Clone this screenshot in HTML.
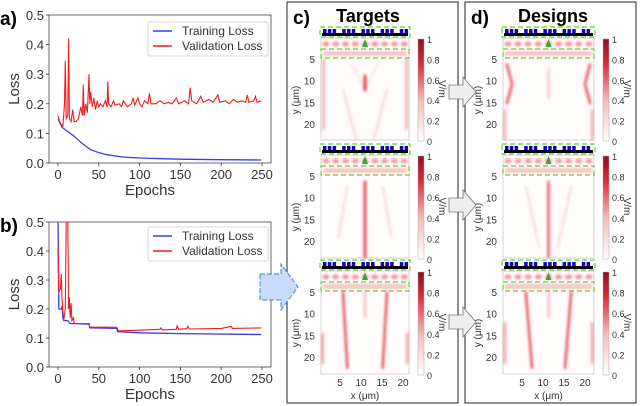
<!DOCTYPE html>
<html><head><meta charset="utf-8"><style>
body{margin:0;background:#fff;}
svg{display:block;font-family:"Liberation Sans",sans-serif;}
</style></head><body>
<svg width="640" height="406" viewBox="0 0 640 406">
<defs>
<filter id="bl" filterUnits="userSpaceOnUse" x="0" y="0" width="640" height="406"><feGaussianBlur stdDeviation="1.4"/></filter>
<linearGradient id="cb" x1="0" y1="1" x2="0" y2="0"><stop offset="0" stop-color="#fff"/><stop offset="0.4" stop-color="#f6b9b9"/><stop offset="0.75" stop-color="#d9303a"/><stop offset="1" stop-color="#8a1020"/></linearGradient>
<clipPath id="clipA"><rect x="49" y="15" width="222" height="148"/></clipPath>
<clipPath id="clipB"><rect x="49" y="222" width="222" height="145"/></clipPath>
</defs>
<g id="chartA"></g>
<g id="chartB"></g>
<g id="panels"></g>
</svg>
<script>
const NS="http://www.w3.org/2000/svg";
// ---- chart data ----
const epochTicks=[0,50,100,150,200,250];
const lossTicks=[0.0,0.1,0.2,0.3,0.4,0.5];
const aTrainEpochs=[0,5,10,20,30,40,50,60,80,100,150,200,249];
const aTrainLoss=[0.15,0.12,0.11,0.09,0.065,0.045,0.035,0.028,0.02,0.017,0.013,0.011,0.01];
const aValEpochs=[0,2,4,6,8,9,10,12,13,14,16,18,20,22,25,28,30,31,32,34,36,38,39,40,42,44,46,48,50,52,55,58,60,61,62,65,68,70,75,78,80,85,90,92,94,98,100,103,106,110,112,114,120,125,130,135,140,145,148,155,160,162,164,170,175,178,185,190,196,198,205,210,215,220,225,230,232,234,240,242,244,249];
const aValLoss=[0.16,0.14,0.13,0.125,0.2,0.345,0.15,0.16,0.42,0.15,0.14,0.18,0.14,0.14,0.15,0.19,0.16,0.265,0.16,0.2,0.17,0.3,0.2,0.24,0.19,0.22,0.18,0.21,0.19,0.2,0.19,0.21,0.19,0.275,0.2,0.19,0.21,0.195,0.2,0.19,0.21,0.19,0.2,0.22,0.195,0.22,0.2,0.19,0.21,0.2,0.235,0.2,0.2,0.21,0.2,0.205,0.2,0.22,0.2,0.21,0.2,0.255,0.21,0.2,0.225,0.205,0.215,0.205,0.23,0.205,0.21,0.2,0.215,0.205,0.21,0.205,0.23,0.205,0.21,0.225,0.205,0.21];
const bTrainEpochs=[0,0.5,1,4,5,6,7,12,15,38,39,72,73,100,150,249];
const bTrainLoss=[0.5,0.4,0.2,0.2,0.21,0.17,0.16,0.16,0.15,0.148,0.135,0.133,0.122,0.118,0.115,0.112];
const bValEpochs=[0,1,3,4,5,7,9,10,11,12,13,14,15,16,17,19,20,38,39,72,74,100,125,126,128,145,146,148,158,159,161,200,212,214,249];
const bValLoss=[0.41,0.26,0.27,0.32,0.23,0.16,0.2,0.5,0.9,0.5,0.2,0.24,0.17,0.22,0.16,0.17,0.15,0.15,0.138,0.137,0.125,0.127,0.13,0.135,0.128,0.13,0.142,0.13,0.132,0.14,0.131,0.133,0.14,0.133,0.135];
const legendLabels=["Training Loss","Validation Loss"];

function el(tag,attrs,parent,text){const e=document.createElementNS(NS,tag);for(const k in attrs)e.setAttribute(k,attrs[k]);if(text!==undefined)e.textContent=text;parent.appendChild(e);return e;}

function drawChart(g,o){
  const xs=e=>58+e*(204/250), ys=v=>o.y0-v*o.sc;
  el('rect',{x:49,y:o.top,width:222,height:o.y0-o.top,fill:'none',stroke:'#444','stroke-width':0.8},g);
  const lbl=el('text',{x:0,y:o.top+10,'font-size':19,'font-weight':'bold',fill:'#000'},g,o.tag);
  
  
  epochTicks.forEach(t=>{
    el('line',{x1:xs(t),x2:xs(t),y1:o.y0,y2:o.y0+3,stroke:'#333','stroke-width':0.8},g);
    const tx=el('text',{x:xs(t),y:o.y0+16,'font-size':13,'text-anchor':'middle',fill:'#333'},g,t);
    
    
  });
  lossTicks.forEach(t=>{
    el('line',{x1:46,x2:49,y1:ys(t),y2:ys(t),stroke:'#333','stroke-width':0.8},g);
    const ty=el('text',{x:44,y:ys(t)+5,'font-size':13,'text-anchor':'end',fill:'#333'},g,t.toFixed(1));
    
    
  });
  const xt=el('text',{x:150,y:o.y0+32,'font-size':15,'text-anchor':'middle',fill:'#333'},g,'Epochs');
  
  
  const yt=el('text',{transform:`translate(19,${(o.top+o.y0)/2}) rotate(-90)`,'font-size':15,'text-anchor':'middle',fill:'#333'},g,'Loss');
  
  
  const cg=el('g',{'clip-path':`url(#${o.clip})`},g);
  const pts=(E,V)=>E.map((e,i)=>xs(e).toFixed(1)+','+ys(V[i]).toFixed(1)).join(' ');
  const tr=el('polyline',{points:pts(o.te,o.tl),fill:'none',stroke:'#3b3bf0','stroke-width':1.3},cg);
  
  
  const vl=el('polyline',{points:pts(o.ve,o.vl),fill:'none',stroke:'#f01c1c','stroke-width':1.1},cg);
  
  
  const lg=el('g',{},g);
  
  
  el('rect',{x:148,y:o.ly,width:120,height:34,rx:2,fill:'#fff',stroke:'#ccc','stroke-width':0.8},lg);
  ['#3b3bf0','#f01c1c'].forEach((c,i)=>{
    el('line',{x1:153,x2:172,y1:o.ly+9+i*15,y2:o.ly+9+i*15,stroke:c,'stroke-width':1.4},lg);
    const t=el('text',{x:182,y:o.ly+13+i*15,'font-size':12,fill:'#333'},lg,legendLabels[i]);
    
    
  });
}
drawChart(document.getElementById('chartA'),{tag:'a)',top:15,y0:163,sc:296,clip:'clipA',te:aTrainEpochs,tl:aTrainLoss,ve:aValEpochs,vl:aValLoss,ly:22});
drawChart(document.getElementById('chartB'),{tag:'b)',top:222,y0:367,sc:290,clip:'clipB',te:bTrainEpochs,tl:bTrainLoss,ve:bValEpochs,vl:bValLoss,ly:227});

// ---- panels ----
const P=document.getElementById('panels');
const cols=[{bx:287,bw:171,hx:321,hw:88,title:'Targets',tag:'c)',tx:368,tagx:293},{bx:465,bw:171,hx:503,hw:91,title:'Designs',tag:'d)',tx:553,tagx:471}];
const rows=[{sy:27,hy:38,hh:102},{sy:144,hy:155,hh:103},{sy:260,hy:271,hh:103}];
const streaks=[
 [[[0.5,0.36,0.5,0.52,3,0.9],[0.03,0.2,0.03,0.9,2,0.5],[0.97,0.2,0.97,0.9,2,0.5],[0.25,0.5,0.4,1,1.3,0.3],[0.75,0.5,0.6,1,1.3,0.3],[0.35,0.25,0.5,0.5,1,0.25],[0.65,0.25,0.5,0.5,1,0.25]],
  [[0.5,0.25,0.5,1,3,0.85],[0.3,0.3,0.2,0.8,1.2,0.3],[0.7,0.3,0.8,0.8,1.2,0.3]],
  [[0.25,0.2,0.3,0.95,2.6,0.8],[0.75,0.2,0.7,0.95,2.6,0.8],[0.02,0.6,0.02,0.9,2,0.6],[0.98,0.6,0.98,0.9,2,0.6],[0.5,0.2,0.5,0.45,1.5,0.5]]],
 [[[0.04,0.25,0.1,0.45,3,0.7],[0.1,0.45,0.04,0.65,3,0.7],[0.96,0.25,0.9,0.45,3,0.7],[0.9,0.45,0.96,0.65,3,0.7],[0.5,0.3,0.5,0.6,1.5,0.4],[0.02,0.7,0.02,1,2,0.5],[0.98,0.7,0.98,1,2,0.5]],
  [[0.5,0.25,0.5,1,2.5,0.8],[0.25,0.3,0.4,0.9,1.2,0.3],[0.75,0.3,0.6,0.9,1.2,0.3]],
  [[0.25,0.2,0.32,0.95,2.6,0.8],[0.75,0.2,0.68,0.95,2.6,0.8],[0.5,0.2,0.5,0.45,1.5,0.5],[0.02,0.5,0.02,0.9,2,0.6],[0.98,0.5,0.98,0.9,2,0.6]]]];
cols.forEach((c,ci)=>{
  const pg=el('g',{},P);
  
  
  el('rect',{x:c.bx,y:2,width:c.bw,height:401,fill:'none',stroke:'#222','stroke-width':1},pg);
  el('text',{x:c.tagx,y:24,'font-size':19,'font-weight':'bold'},pg,c.tag);
  el('text',{x:c.tx,y:22,'font-size':18,'font-weight':'bold','text-anchor':'middle'},pg,c.title);
  rows.forEach((r,ri)=>{
    el('rect',{x:c.hx-1,y:r.sy,width:c.hw+2,height:10,fill:'none',stroke:'#6c3','stroke-width':1.2,'stroke-dasharray':'5,3'},pg);
    for(let k=0;k<18;k++){ if(k%4!==3) el('rect',{x:c.hx+2+k*4.8,y:r.sy+2,width:3.5,height:4,fill:'#10c'},pg); }
    el('rect',{x:c.hx+1,y:r.sy+6,width:c.hw-2,height:3,fill:'#000'},pg);
    const hm=el('g',{},pg);
    
    
    el('rect',{x:c.hx,y:r.hy,width:c.hw,height:r.hh,fill:'#fffcfb',stroke:'#bbb','stroke-width':0.6},hm);
    for(let k=0;k<9;k++){
      el('ellipse',{cx:c.hx+5+k*c.hw/9,cy:r.hy+6,rx:3.5,ry:2.5,fill:'#e0404a','fill-opacity':0.55,filter:'url(#bl)'},hm);
    }
    el('rect',{x:c.hx,y:r.hy+11,width:c.hw,height:9,fill:'none',stroke:'#6c3','stroke-width':1.2,'stroke-dasharray':'5,3'},hm);
    el('rect',{x:c.hx+2,y:r.hy+13,width:c.hw-4,height:5,fill:'#f0a0a6','fill-opacity':0.6,filter:'url(#bl)'},hm);
    el('path',{d:`M${c.hx+c.hw/2} ${r.hy+1} l-3 8 h6 z`,fill:'#3a3'},hm);
    streaks[ci][ri].forEach(s=>{
      el('line',{x1:c.hx+s[0]*c.hw,y1:r.hy+s[1]*r.hh,x2:c.hx+s[2]*c.hw,y2:r.hy+s[3]*r.hh,stroke:'#e0303c','stroke-width':s[4],'stroke-opacity':s[5],filter:'url(#bl)'},hm);
    });
    [5,10,15,20].forEach((t,i)=>el('text',{x:c.hx-6,y:r.hy+25+i*21.7,'font-size':10,'text-anchor':'end',fill:'#333'},pg,t));
    el('text',{transform:`translate(${c.hx-22},${r.hy+62}) rotate(-90)`,'font-size':10,'text-anchor':'middle',fill:'#333'},pg,'y (μm)');
    const cx=c.hx+c.hw+9;
    el('rect',{x:cx,y:r.hy+1,width:6,height:r.hh,fill:'url(#cb)',stroke:'#aaa','stroke-width':0.5},pg);
    ['1','0.8','0.6','0.4','0.2','0'].forEach((t,i)=>el('text',{x:cx+9,y:r.hy+5+i*r.hh/5,'font-size':9,fill:'#333'},pg,t));
    el('text',{transform:`translate(${cx+21},${r.hy+r.hh/2}) rotate(90)`,'font-size':10,'text-anchor':'middle',fill:'#333'},pg,'V/m');
  });
  [5,10,15,20].forEach((t,i)=>el('text',{x:c.hx+19+i*21,y:386,'font-size':10,'text-anchor':'middle',fill:'#333'},pg,t));
  el('text',{x:c.hx+c.hw/2,y:399,'font-size':10,'text-anchor':'middle',fill:'#333'},pg,'x (μm)');
});
[92,205,322].forEach(y=>{
  const a=el('path',{d:`M449 ${y-7} h14 v-8 l13 15 l-13 15 v-8 h-14 z`,fill:'#eee',stroke:'#777','stroke-width':0.8},P);
  
  
});
const ba=el('path',{d:'M260 274 h21 v-10 l17 23 l-17 23 v-10 h-21 z',fill:'#c9dbfb',stroke:'#4a7be0','stroke-width':1,'stroke-dasharray':'5,2'},P);


</script>
</body></html>
